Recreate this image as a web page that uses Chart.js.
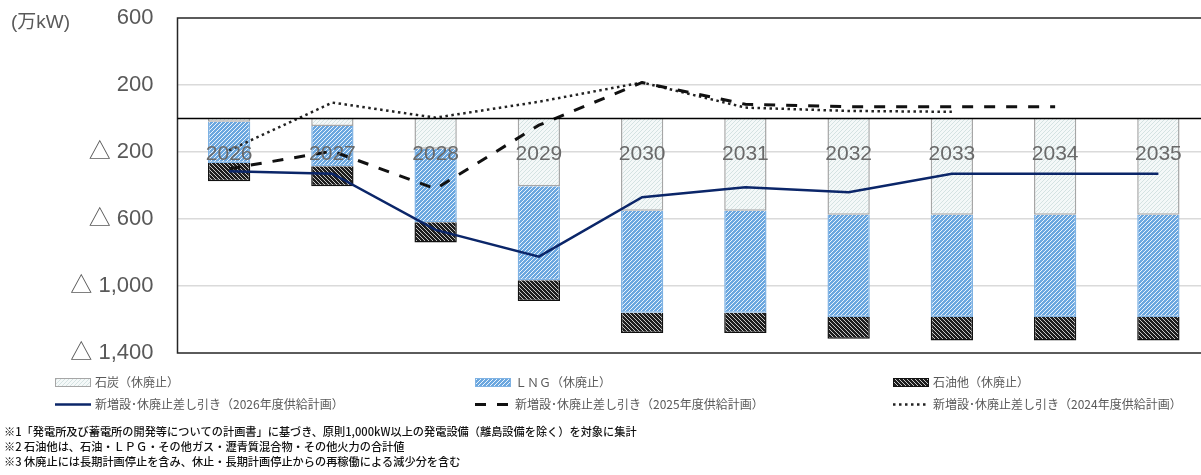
<!DOCTYPE html>
<html lang="ja">
<head>
<meta charset="utf-8">
<script src="https://cdn.jsdelivr.net/npm/chart.js@4/dist/chart.umd.min.js"></script>
<style>
  html, body { margin: 0; padding: 0; background: #fff; overflow: hidden; }
  #box { position: relative; width: 1212px; height: 475px; }
</style>
</head>
<body>
<div id="box"><canvas id="supply" width="1212" height="475"></canvas></div>
<script>
// 休廃止の内訳（万kW、マイナス表記）と新増設・休廃止差し引きの推移
var YEARS = ["2026", "2027", "2028", "2029", "2030", "2031", "2032", "2033", "2034", "2035"];
var COAL = [-20, -45, -180, -405, -550, -550, -575, -575, -575, -575];
var LNG = [-245, -240, -440, -560, -610, -610, -610, -610, -610, -610];
var OIL = [-110, -120, -120, -125, -120, -120, -130, -140, -140, -140];
var NET_FY2026 = [-315, -330, -665, -825, -470, -410, -440, -330, -330, -330];
var NET_FY2025 = [-300, -195, -420, -40, 215, 85, 70, 70, 70, null];
var NET_FY2024 = [-190, 95, 5, 100, 215, 65, 45, 40, null, null];
var Y_TICKS = [600, 200, -200, -600, -1000, -1400];
var UNIT = "(万kW)";
var NOTES = [
  "※1「発電所及び蓄電所の開発等についての計画書」に基づき、原則1,000kW以上の発電設備（離島設備を除く）を対象に集計",
  "※2 石油他は、石油・ＬＰＧ・その他ガス・瀝青質混合物・その他火力の合計値",
  "※3 休廃止には長期計画停止を含み、休止・長期計画停止からの再稼働による減少分を含む"
];

var LATIN = '"Liberation Sans", "Noto Sans CJK JP", sans-serif';
var CJK = '"Noto Sans CJK JP", "Noto Sans", sans-serif';
var TEXT = "#595959";

// small repeating tiles for the hatched bar fills
function hatch(bg, fg, cells) {
  var c = document.createElement("canvas");
  c.width = c.height = 4;
  var g = c.getContext("2d");
  g.fillStyle = bg;
  g.fillRect(0, 0, 4, 4);
  g.fillStyle = fg;
  cells.forEach(function (p) { g.fillRect(p[0], p[1], 1, 1); });
  return g.createPattern(c, "repeat");
}
var SLASH = [[3, 0], [2, 1], [1, 2], [0, 3]];
var BACK = [[0, 0], [1, 1], [2, 2], [3, 3]];
var coalFill = hatch("#f4f8f8", "#d4e2e2", SLASH);
var lngFill = hatch("#6ba7df", "#eaf3fc", SLASH);
var oilFill = hatch("#1e1e1e", "#c8c8c8", BACK);

function fmtTick(v) {
  if (v < 0) return "\u25B3 " + Math.abs(v).toLocaleString("en-US");
  return String(v);
}

// plot frame, then the zero line and year labels on top of the bars
var framePlugin = {
  id: "frame",
  beforeDatasetsDraw: function (chart) {
    var a = chart.chartArea, ctx = chart.ctx;
    ctx.save();
    ctx.strokeStyle = "#262626";
    ctx.lineWidth = 1.5;
    ctx.strokeRect(a.left, a.top, a.right - a.left, a.bottom - a.top);
    ctx.restore();
  },
  afterDatasetsDraw: function (chart) {
    var a = chart.chartArea, ctx = chart.ctx;
    var x = chart.scales.x, y0 = chart.scales.y.getPixelForValue(0);
    ctx.save();
    ctx.strokeStyle = "#000";
    ctx.lineWidth = 1.5;
    ctx.beginPath();
    ctx.moveTo(a.left, y0);
    ctx.lineTo(a.right, y0);
    ctx.stroke();
    ctx.fillStyle = "#6a6a6a";
    ctx.font = "21px " + LATIN;
    ctx.textAlign = "center";
    ctx.textBaseline = "middle";
    chart.data.labels.forEach(function (lab, i) {
      ctx.fillText(lab, x.getPixelForValue(i), y0 + 36);
    });
    ctx.restore();
  }
};

// unit label, three-column legend and footnotes under the plot
var legendSlots = [
  { ds: 0, x: 55, y: 382.5 }, { ds: 1, x: 475, y: 382.5 }, { ds: 2, x: 893, y: 382.5 },
  { ds: 3, x: 55, y: 404.5 }, { ds: 4, x: 475, y: 404.5 }, { ds: 5, x: 893, y: 404.5 }
];
var notesPlugin = {
  id: "notes",
  afterDraw: function (chart) {
    var ctx = chart.ctx;
    ctx.save();
    ctx.textBaseline = "middle";
    ctx.fillStyle = TEXT;
    ctx.font = "19px " + LATIN;
    ctx.fillText(UNIT, 11, 23);

    legendSlots.forEach(function (s) {
      var ds = chart.data.datasets[s.ds];
      if (ds.type === "line") {
        ctx.save();
        ctx.strokeStyle = ds.borderColor;
        ctx.lineWidth = ds.borderWidth;
        ctx.setLineDash(ds.borderDash || []);
        ctx.beginPath();
        ctx.moveTo(s.x, s.y);
        ctx.lineTo(s.x + 36, s.y);
        ctx.stroke();
        ctx.restore();
      } else {
        ctx.fillStyle = ds.backgroundColor;
        ctx.fillRect(s.x, s.y - 4.5, 36, 9);
        ctx.strokeStyle = ds.borderColor;
        ctx.lineWidth = 1;
        ctx.strokeRect(s.x + 0.5, s.y - 4, 35, 8);
      }
      ctx.fillStyle = TEXT;
      ctx.font = "12px " + CJK;
      ctx.fillText(ds.label, s.x + 40, s.y);
    });

    ctx.fillStyle = "#111";
    ctx.font = "500 11.2px " + CJK;
    NOTES.forEach(function (t, i) {
      ctx.fillText(t, 4, 431.5 + i * 15);
    });
    ctx.restore();
  }
};

new Chart(document.getElementById("supply"), {
  data: {
    labels: YEARS,
    datasets: [
      { type: "bar", label: "石炭（休廃止）", data: COAL, stack: "retire", order: 2,
        backgroundColor: coalFill, borderColor: "#a6a6a6", borderWidth: 1.5 },
      { type: "bar", label: "ＬＮＧ（休廃止）", data: LNG, stack: "retire", order: 2,
        backgroundColor: lngFill, borderColor: "#7fb2e3", borderWidth: 1.5 },
      { type: "bar", label: "石油他（休廃止）", data: OIL, stack: "retire", order: 2,
        backgroundColor: oilFill, borderColor: "#111", borderWidth: 1.5 },
      { type: "line", label: "新増設･休廃止差し引き（2026年度供給計画）", data: NET_FY2026,
        stack: "fy2026", order: 0, borderColor: "#0b2669", borderWidth: 2.5,
        pointRadius: 0, tension: 0 },
      { type: "line", label: "新増設･休廃止差し引き（2025年度供給計画）", data: NET_FY2025,
        stack: "fy2025", order: 0, borderColor: "#111", borderWidth: 3,
        borderDash: [11, 11], pointRadius: 0, tension: 0 },
      { type: "line", label: "新増設･休廃止差し引き（2024年度供給計画）", data: NET_FY2024,
        stack: "fy2024", order: 1, borderColor: "#222", borderWidth: 2.5,
        borderDash: [2.5, 3.5], pointRadius: 0, tension: 0 }
    ]
  },
  options: {
    responsive: false,
    animation: false,
    events: [],
    layout: { padding: { left: 0, top: 18, right: 2, bottom: 122 } },
    datasets: { bar: { categoryPercentage: 1, barPercentage: 0.41 } },
    plugins: { legend: { display: false }, tooltip: { enabled: false } },
    scales: {
      x: { stacked: true, display: false },
      y: {
        stacked: true,
        min: -1400,
        max: 600,
        afterBuildTicks: function (scale) {
          scale.ticks = Y_TICKS.map(function (v) { return { value: v }; });
        },
        afterFit: function (scale) {
          scale.width = 177.5;
          scale.paddingTop = 0;
          scale.paddingBottom = 0;
        },
        grid: {
          drawTicks: false,
          lineWidth: 1.5,
          color: function (c) {
            var v = c.tick && c.tick.value;
            return (v === 600 || v === -1400) ? "rgba(0,0,0,0)" : "#dadada";
          }
        },
        border: { display: false },
        ticks: {
          color: TEXT, padding: 24,
          font: { family: LATIN, size: 22 },
          callback: fmtTick
        }
      }
    }
  },
  plugins: [framePlugin, notesPlugin]
});
</script>
</body>
</html>
